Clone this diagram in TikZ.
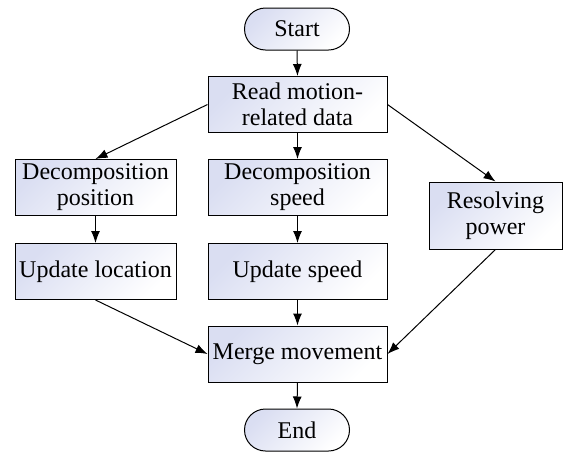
\documentclass[tikz,border=0pt]{standalone}
\usepackage{fontspec}
\setmainfont{Liberation Serif}
\usetikzlibrary{arrows.meta}
\definecolor{boxshade}{RGB}{218,222,242}

\begin{document}
\begin{tikzpicture}
    [x = 0.5pt, y = -0.5pt, line width = 0.5pt, >={Latex[length=6pt,width=4.5pt]},
     every node/.style = {draw, align = center, inner sep = 0.3pt, font = \fontsize{12}{13}\selectfont},
     box/.style = {rectangle, top color = boxshade, bottom color = white, shading angle = 45, minimum height = 28pt},
     term/.style = {box, rounded corners = 10.5pt, minimum width = 52.5pt, minimum height = 21pt}]
    \useasboundingbox (0,0) rectangle (563,451);
    \node[term] (st) at (297,29) {Start};
    \node[box, minimum width = 89.5pt] (rd) at (297.5,104.5) {Read motion-\\related data};
    \node[box, minimum width = 80.5pt] (dp) at (95.5,187.5) {Decomposition\\position};
    \node[box, minimum width = 89.5pt] (ds) at (297.5,187.5) {Decomposition\\speed};
    \node[box, minimum width = 66.5pt, minimum height = 33.5pt] (rp) at (495.5,215.5) {Resolving\\power};
    \node[box, minimum width = 80.5pt] (ul) at (95.5,271.5) {Update location};
    \node[box, minimum width = 89.5pt] (us) at (297.5,271.5) {Update speed};
    \node[box, minimum width = 89.5pt] (mm) at (297.5,354) {Merge movement};
    \node[term] (en) at (297,430) {End};
    \foreach \from/\to in {st.south/rd.north, rd.south/ds.north, rd.west/dp.north, rd.east/rp.north,
                           dp.south/ul.north, ds.south/us.north, ul.south/mm.west, us.south/mm.north,
                           rp.south/mm.east, mm.south/en.north}
      \draw[->] (\from) -- (\to);
\end{tikzpicture}
\end{document}
